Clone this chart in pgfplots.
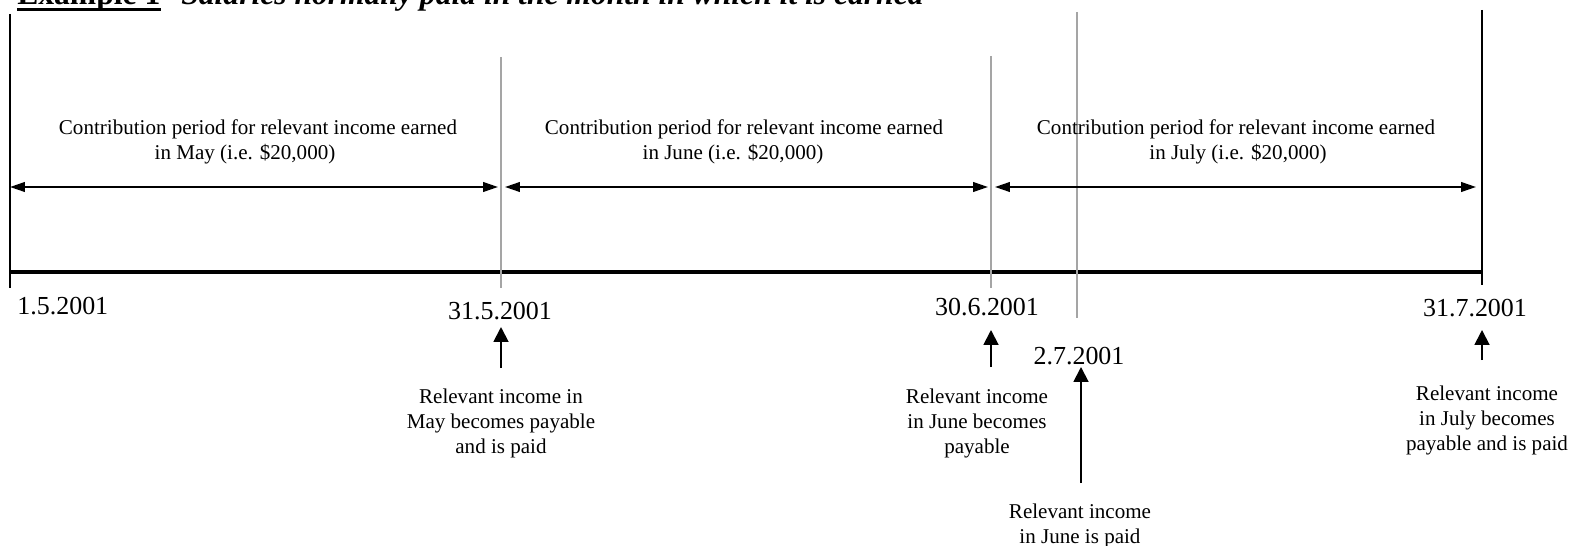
\documentclass[border=0pt]{standalone}
\usepackage{pgfplots}
\pgfplotsset{compat=1.18}
\usetikzlibrary{arrows.meta}
\usepackage{fontspec}
\setmainfont{Liberation Serif}
\definecolor{grayline}{RGB}{165,165,165}
\newcommand{\sm}{\fontsize{12}{14}\selectfont}
\newcommand{\dt}{\fontsize{14.8}{17}\selectfont}
\newcommand{\ttl}{\fontsize{18}{21}\selectfont}
\tikzset{
  harr/.style={black, line width=1.1pt,
    {Triangle[length=8.5pt,width=5.5pt]}-{Triangle[length=8.5pt,width=5.5pt]}},
  varr/.style={black, line width=1.1pt, -{Triangle[length=8.5pt,width=8.5pt]}},
  txt/.style={inner sep=0pt, anchor=base, font=\sm},
  dat/.style={inner sep=0pt, anchor=base, font=\dt},
}
\begin{document}
\begin{tikzpicture}
\begin{axis}[x=0.57pt, y=0.57pt, y dir=reverse,
  xmin=0, xmax=1569, ymin=0, ymax=545,
  hide axis, clip=false,
]
\coordinate (A) at (axis cs:0,0);
\coordinate (B) at (axis cs:1569,545);
% frame lines
\addplot[black, line width=1.2pt] coordinates {(10,14) (10,288)};
\addplot[black, line width=1.2pt] coordinates {(1482,10) (1482,285)};
\addplot[black, line width=2.3pt] coordinates {(10,272) (1482,272)};
\addplot[grayline, line width=0.6pt] coordinates {(501,57) (501,288)};
\addplot[grayline, line width=0.6pt] coordinates {(991,56) (991,288)};
\addplot[grayline, line width=0.6pt] coordinates {(1077,12) (1077,318)};
% contribution periods
\addplot[harr] coordinates {(10,187) (498,187)};
\addplot[harr] coordinates {(505,187) (988,187)};
\addplot[harr] coordinates {(995,187) (1476,187)};
% up arrows
\addplot[varr] coordinates {(501,368) (501,327)};
\addplot[varr] coordinates {(991,367) (991,330)};
\addplot[varr] coordinates {(1081,483) (1081,367)};
\addplot[varr] coordinates {(1482,360) (1482,330)};
% title
\node[inner sep=0pt, anchor=base west, font=\ttl] at (axis cs:17,5) {\bfseries Example 1};
\addplot[black, line width=1.6pt] coordinates {(17,9.5) (161,9.5)};
\node[inner sep=0pt, anchor=base west, font=\ttl] at (axis cs:181,5) {\bfseries\itshape Salaries normally paid in the month in which it is earned};
% contribution texts
\node[txt] at (axis cs:258,135) {Contribution period for relevant income earned};
\node[txt] at (axis cs:245,160) {in May (i.e. \$20,000)};
\node[txt] at (axis cs:744,135) {Contribution period for relevant income earned};
\node[txt] at (axis cs:733,160) {in June (i.e. \$20,000)};
\node[txt] at (axis cs:1236,135) {Contribution period for relevant income earned};
\node[txt] at (axis cs:1238,160) {in July (i.e. \$20,000)};
% dates
\node[dat, anchor=base west] at (axis cs:17,314) {1.5.2001};
\node[dat] at (axis cs:500,319) {31.5.2001};
\node[dat] at (axis cs:987,315) {30.6.2001};
\node[dat] at (axis cs:1079,364) {2.7.2001};
\node[dat] at (axis cs:1475,316) {31.7.2001};
% annotations
\node[txt] at (axis cs:501,403) {Relevant income in};
\node[txt] at (axis cs:501,428) {May becomes payable};
\node[txt] at (axis cs:501,453) {and is paid};
\node[txt] at (axis cs:977,403) {Relevant income};
\node[txt] at (axis cs:977,428) {in June becomes};
\node[txt] at (axis cs:977,453) {payable};
\node[txt] at (axis cs:1080,518) {Relevant income};
\node[txt] at (axis cs:1080,543) {in June is paid};
\node[txt] at (axis cs:1487,400) {Relevant income};
\node[txt] at (axis cs:1487,425) {in July becomes};
\node[txt] at (axis cs:1487,450) {payable and is paid};
\end{axis}
\pgfresetboundingbox
\path[use as bounding box] (A) rectangle (B);
\end{tikzpicture}
\end{document}
